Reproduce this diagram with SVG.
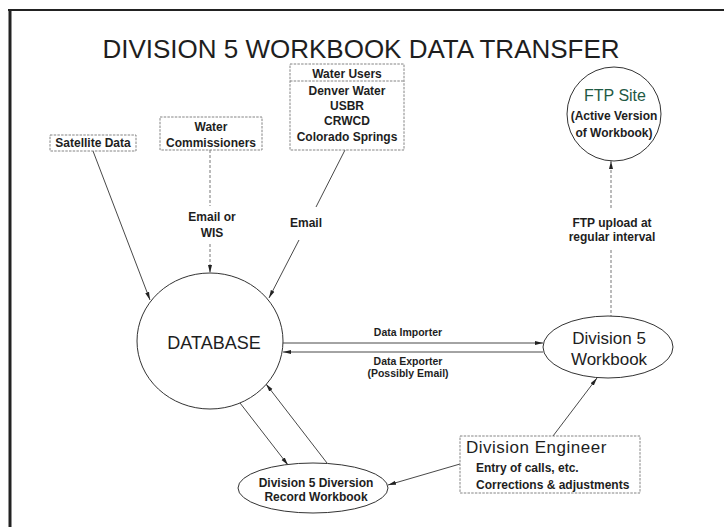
<svg xmlns="http://www.w3.org/2000/svg" width="724" height="527" viewBox="0 0 724 527">
<style>
text{font-family:"Liberation Sans",Arial,sans-serif;fill:#1e1e1e}
.t{font-size:26px}
.s{font-size:12px;font-weight:bold}
.xs{font-size:10.5px;font-weight:bold}
.m{font-size:17px}
.box{fill:#fff;stroke:#777;stroke-width:0.9;stroke-dasharray:2.5 1.2}
.nd{fill:#fff;stroke:#333;stroke-width:1}
.c{fill:none;stroke:#333;stroke-width:0.9}
.d{fill:none;stroke:#666;stroke-width:0.9;stroke-dasharray:3 2}
</style>
<defs>
<marker id="ah" viewBox="0 0 10 6" refX="10" refY="3" markerWidth="8" markerHeight="5" markerUnits="userSpaceOnUse" orient="auto">
<path d="M0,0.5 L10,3 L0,5.5 Z" fill="#222"/>
</marker>
</defs>
<rect width="724" height="527" fill="#fff"/>
<g id="frame">
<line x1="8" y1="10" x2="724" y2="10" stroke="#222" stroke-width="2"/>
<line x1="10" y1="9" x2="10" y2="527" stroke="#222" stroke-width="3"/>
</g>
<text class="t" x="361" y="58" text-anchor="middle">DIVISION 5 WORKBOOK DATA TRANSFER</text>

<g id="connectors">
<line class="c" x1="93" y1="151" x2="150" y2="300" marker-end="url(#ah)"/>
<line class="d" x1="210" y1="150" x2="210" y2="206"/>
<line class="d" x1="210" y1="244" x2="210" y2="273" marker-end="url(#ah)"/>
<line class="c" x1="345" y1="150" x2="316" y2="207"/>
<line class="c" x1="299" y1="240" x2="269" y2="298" marker-end="url(#ah)"/>
<line class="d" x1="611" y1="318" x2="611" y2="250"/>
<line class="d" x1="611" y1="208" x2="611" y2="161" marker-end="url(#ah)"/>
<line class="c" x1="283" y1="343" x2="543" y2="343" marker-end="url(#ah)"/>
<line class="c" x1="543" y1="352" x2="283" y2="352" marker-end="url(#ah)"/>
<line class="c" x1="240" y1="403" x2="288" y2="465" marker-end="url(#ah)"/>
<line class="c" x1="327" y1="463" x2="266" y2="384" marker-end="url(#ah)"/>
<line class="c" x1="553" y1="436" x2="597" y2="378" marker-end="url(#ah)"/>
<line class="c" x1="460" y1="464" x2="388" y2="485" marker-end="url(#ah)"/>
<text class="s" x="212" y="221" text-anchor="middle">Email or</text>
<text class="s" x="212" y="237" text-anchor="middle">WIS</text>
<text class="s" x="306" y="227" text-anchor="middle">Email</text>
<text class="s" x="612" y="227" text-anchor="middle">FTP upload at</text>
<text class="s" x="612" y="241" text-anchor="middle">regular interval</text>
<text class="xs" x="408" y="336" text-anchor="middle">Data Importer</text>
<text class="xs" x="408" y="365" text-anchor="middle">Data Exporter</text>
<text class="xs" x="408" y="377" text-anchor="middle">(Possibly Email)</text>
</g>

<g id="satellite">
<rect class="box" x="50" y="135" width="86" height="16"/>
<text class="s" x="93" y="147" text-anchor="middle">Satellite Data</text>
</g>
<g id="commissioners">
<rect class="box" x="160" y="117" width="102" height="33"/>
<text class="s" x="211" y="131" text-anchor="middle">Water</text>
<text class="s" x="211" y="147" text-anchor="middle">Commissioners</text>
</g>
<g id="water-users">
<rect class="box" x="290" y="64" width="114" height="86"/>
<line class="box" x1="290" y1="81" x2="404" y2="81"/>
<text class="s" x="347" y="78" text-anchor="middle">Water Users</text>
<text class="s" x="347" y="95" text-anchor="middle">Denver Water</text>
<text class="s" x="347" y="110" text-anchor="middle">USBR</text>
<text class="s" x="347" y="125" text-anchor="middle">CRWCD</text>
<text class="s" x="347" y="141" text-anchor="middle">Colorado Springs</text>
</g>
<g id="ftp">
<circle class="nd" cx="614" cy="114" r="47"/>
<text x="615" y="100.5" text-anchor="middle" font-size="16" style="fill:#1f5a44">FTP Site</text>
<text class="s" x="614" y="120" text-anchor="middle">(Active Version</text>
<text class="s" x="614" y="137" text-anchor="middle">of Workbook)</text>
</g>
<g id="database">
<ellipse class="nd" cx="210" cy="341" rx="73" ry="68"/>
<text x="214" y="348.5" text-anchor="middle" font-size="18">DATABASE</text>
</g>
<g id="workbook">
<ellipse class="nd" cx="608" cy="347" rx="65" ry="31"/>
<text class="m" x="609" y="344" text-anchor="middle">Division 5</text>
<text class="m" x="609" y="365" text-anchor="middle">Workbook</text>
</g>
<g id="diversion">
<ellipse class="nd" cx="313" cy="488" rx="75" ry="25"/>
<text class="s" x="316" y="487" text-anchor="middle">Division 5 Diversion</text>
<text class="s" x="316" y="501" text-anchor="middle">Record Workbook</text>
</g>
<g id="engineer">
<rect class="box" x="460" y="436" width="180" height="57"/>
<text class="m" x="466" y="453" letter-spacing="0.5">Division Engineer</text>
<text class="s" x="476" y="472">Entry of calls, etc.</text>
<text class="s" x="476" y="489">Corrections &amp; adjustments</text>
</g>
</svg>
